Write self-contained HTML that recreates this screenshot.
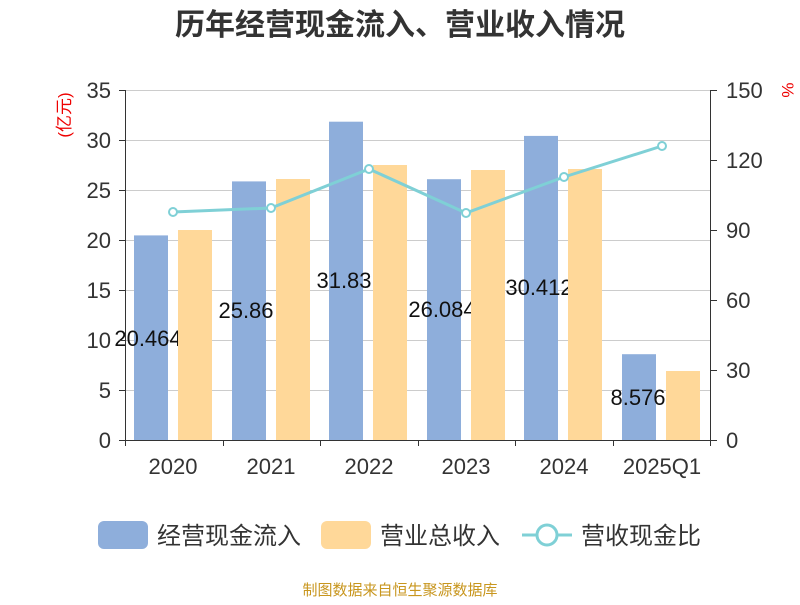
<!DOCTYPE html>
<html><head><meta charset="utf-8"><style>
body{margin:0;background:#fff;}
svg text{font-family:"Liberation Sans","Noto Sans CJK SC",sans-serif;}
</style></head><body>
<svg width="800" height="600" viewBox="0 0 800 600" xmlns="http://www.w3.org/2000/svg">
<text x="400" y="35" text-anchor="middle" font-size="30" font-weight="bold" fill="#333">历年经营现金流入、营业收入情况</text>
<g stroke="#ccc" stroke-width="1">
<line x1="125" y1="90.5" x2="711" y2="90.5"/>
<line x1="125" y1="140.5" x2="711" y2="140.5"/>
<line x1="125" y1="190.5" x2="711" y2="190.5"/>
<line x1="125" y1="240.5" x2="711" y2="240.5"/>
<line x1="125" y1="290.5" x2="711" y2="290.5"/>
<line x1="125" y1="340.5" x2="711" y2="340.5"/>
<line x1="125" y1="390.5" x2="711" y2="390.5"/>
</g>
<g fill="#8eaedb">
<rect x="134" y="235.4" width="34" height="204.6"/>
<rect x="232" y="181.4" width="34" height="258.6"/>
<rect x="329" y="121.7" width="34" height="318.3"/>
<rect x="427" y="179.2" width="34" height="260.8"/>
<rect x="524" y="135.9" width="34" height="304.1"/>
<rect x="622" y="354.2" width="34" height="85.8"/>
</g>
<g font-size="22" fill="#111" text-anchor="middle">
<text x="148" y="346">20.464</text>
<text x="246" y="318">25.86</text>
<text x="344" y="288">31.83</text>
<text x="442" y="317">26.084</text>
<text x="539" y="295">30.412</text>
<text x="638" y="405">8.576</text>
</g>
<g fill="#ffd899">
<rect x="178" y="230" width="34" height="210"/>
<rect x="276" y="179" width="34" height="261"/>
<rect x="373" y="165" width="34" height="275"/>
<rect x="471" y="170" width="34" height="270"/>
<rect x="568" y="169" width="34" height="271"/>
<rect x="666" y="371" width="34" height="69"/>
</g>
<g stroke="#333" stroke-width="1" fill="none">
<line x1="125.5" y1="90" x2="125.5" y2="440"/>
<line x1="710.5" y1="90" x2="710.5" y2="440"/>
<line x1="125" y1="440.5" x2="711" y2="440.5"/>
<path d="M119 90.5H125M119 140.5H125M119 190.5H125M119 240.5H125M119 290.5H125M119 340.5H125M119 390.5H125M119 440.5H125"/>
<path d="M711 90.5H717M711 160.5H717M711 230.5H717M711 300.5H717M711 370.5H717M711 440.5H717"/>
<path d="M125.5 440V446M223.5 440V446M320.5 440V446M418.5 440V446M515.5 440V446M613.5 440V446M710.5 440V446"/>
</g>
<g font-size="22" fill="#333" text-anchor="end">
<text x="111" y="98">35</text><text x="111" y="148">30</text><text x="111" y="198">25</text>
<text x="111" y="248">20</text><text x="111" y="298">15</text><text x="111" y="348">10</text>
<text x="111" y="398">5</text><text x="111" y="448">0</text>
</g>
<g font-size="22" fill="#333" text-anchor="start">
<text x="726" y="98">150</text><text x="726" y="168">120</text><text x="726" y="238">90</text>
<text x="726" y="308">60</text><text x="726" y="378">30</text><text x="726" y="448">0</text>
</g>
<g font-size="22" fill="#333" text-anchor="middle">
<text x="173" y="474">2020</text><text x="271" y="474">2021</text><text x="369" y="474">2022</text>
<text x="466" y="474">2023</text><text x="564" y="474">2024</text><text x="662" y="474">2025Q1</text>
</g>
<text transform="translate(70,115) rotate(-90)" font-size="17" fill="#e00" text-anchor="middle">(亿元)</text>
<text transform="translate(782,90) rotate(90)" font-size="17" fill="#e00" text-anchor="middle">%</text>
<polyline points="173,212 271,208 369,169 466,213 564,177 662,146" fill="none" stroke="#7fd0d6" stroke-width="3"/>
<g fill="#fff" stroke="#7fd0d6" stroke-width="2">
<circle cx="173" cy="212" r="4"/><circle cx="271" cy="208" r="4"/><circle cx="369" cy="169" r="4"/>
<circle cx="466" cy="213" r="4"/><circle cx="564" cy="177" r="4"/><circle cx="662" cy="146" r="4"/>
</g>
<rect x="98" y="521" width="50" height="28" rx="6" fill="#8eaedb"/>
<text x="157" y="544" font-size="24" fill="#333">经营现金流入</text>
<rect x="321" y="521" width="50" height="28" rx="6" fill="#ffd899"/>
<text x="380" y="544" font-size="24" fill="#333">营业总收入</text>
<line x1="522" y1="535" x2="572" y2="535" stroke="#7fd0d6" stroke-width="3"/>
<circle cx="547" cy="535" r="10" fill="#fff" stroke="#7fd0d6" stroke-width="3"/>
<text x="581" y="544" font-size="24" fill="#333">营收现金比</text>
<text x="400" y="595" font-size="15" fill="#c8961e" text-anchor="middle">制图数据来自恒生聚源数据库</text>
</svg>
</body></html>
